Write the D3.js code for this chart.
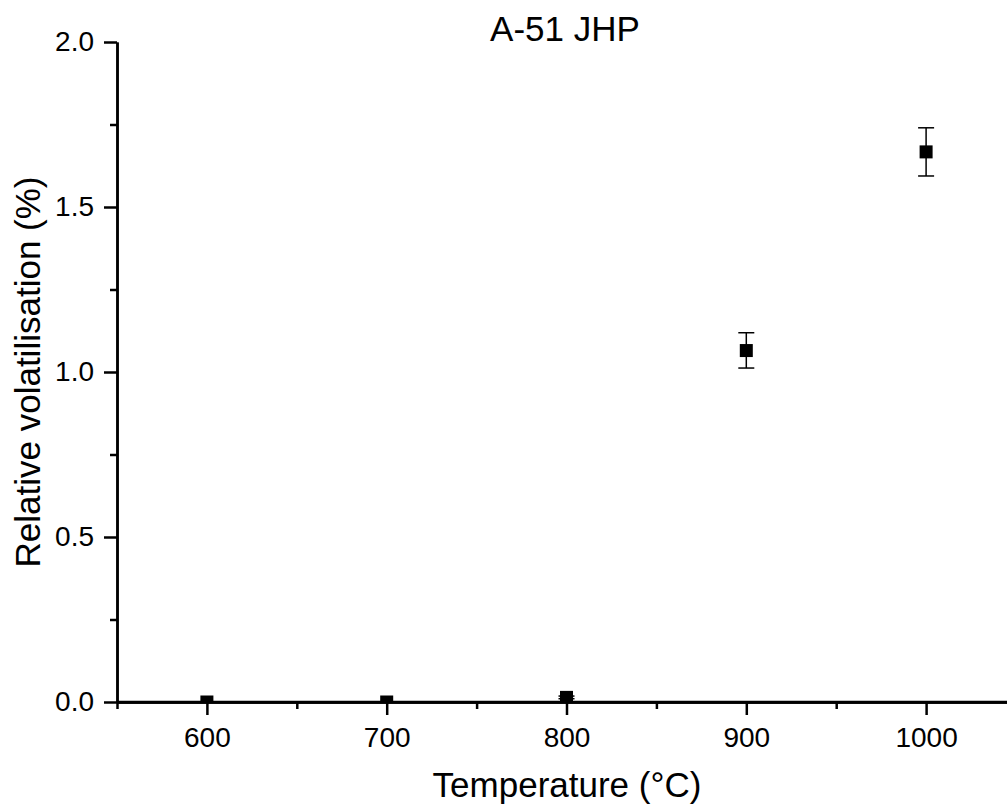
<!DOCTYPE html>
<html>
<head>
<meta charset="utf-8">
<script src="https://cdn.jsdelivr.net/npm/d3@7"></script>
<style>
  body { margin: 0; background: #fff; }
  svg { display: block; font-family: "Liberation Sans", Arial, sans-serif; }
</style>
</head>
<body>
<div id="chart"></div>
<script>
// data
const temperatures = [600, 700, 800, 900, 1000];
const volatilisation = [0.0, 0.0, 0.014, 1.065, 1.667];
const errLow = [0.0, 0.0, 0.01, 1.012, 1.594];
const errHigh = [0.0, 0.0, 0.018, 1.119, 1.740];
const xTicks = [600, 700, 800, 900, 1000];
const xMinorTicks = [550, 650, 750, 850, 950, 1050];
const yTicks = [0, 0.5, 1.0, 1.5, 2.0];
const yMinorTicks = [0.25, 0.75, 1.25, 1.75];

const title = "A-51 JHP";
const xLabel = "Temperature (°C)";
const yLabel = "Relative volatilisation (%)";

const width = 1007;
const height = 810;
const margin = { top: 42, right: -9, bottom: 108, left: 117 };
const innerW = width - margin.left - margin.right;
const innerH = height - margin.top - margin.bottom;

const svg = d3.select("#chart")
    .append("svg")
    .attr("width", width)
    .attr("height", height);

const g = svg.append("g")
    .attr("transform", "translate(" + margin.left + "," + margin.top + ")");

const x = d3.scaleLinear().domain([550, 1050]).range([0, innerW]);
const y = d3.scaleLinear().domain([0, 2]).range([innerH, 0]);

// clip to plot area (markers at 0 get cut by the axis)
svg.append("defs").append("clipPath")
    .attr("id", "plotClip")
    .append("rect")
    .attr("x", 0).attr("y", 0)
    .attr("width", innerW).attr("height", innerH);

// minor ticks
g.append("g")
    .attr("class", "axis")
    .attr("transform", "translate(0," + innerH + ")")
    .call(d3.axisBottom(x).tickValues(xMinorTicks).tickSize(7).tickSizeOuter(0).tickFormat(""));
g.append("g")
    .attr("class", "axis")
    .call(d3.axisLeft(y).tickValues(yMinorTicks).tickSize(7).tickSizeOuter(0).tickFormat(""));

// major ticks
g.append("g")
    .attr("class", "axis")
    .attr("transform", "translate(0," + innerH + ")")
    .call(d3.axisBottom(x).tickValues(xTicks).tickSize(13).tickSizeOuter(0).tickPadding(12).tickFormat(d3.format("d")));
g.append("g")
    .attr("class", "axis")
    .call(d3.axisLeft(y).tickValues(yTicks).tickSize(13).tickSizeOuter(0).tickPadding(10).tickFormat(d3.format(".1f")));

g.selectAll(".axis path").attr("stroke", "#000").attr("stroke-width", 2.5);
g.selectAll(".axis line").attr("stroke", "#000").attr("stroke-width", 2.5);
g.selectAll(".axis text")
    .attr("fill", "#000")
    .style("font-size", "28px")
    .style("font-family", "'Liberation Sans', Arial, sans-serif");

// data
const pts = temperatures.map(function (t, i) {
    return { t: t, v: volatilisation[i], lo: errLow[i], hi: errHigh[i] };
});

const plot = g.append("g").attr("clip-path", "url(#plotClip)");
const capW = 8;

const eb = plot.selectAll(".err")
    .data(pts)
    .enter()
    .append("g")
    .attr("class", "err")
    .attr("stroke", "#000")
    .attr("stroke-width", 1.5);
eb.append("line")
    .attr("x1", function (d) { return x(d.t); })
    .attr("x2", function (d) { return x(d.t); })
    .attr("y1", function (d) { return y(d.lo); })
    .attr("y2", function (d) { return y(d.hi); });
eb.append("line")
    .attr("x1", function (d) { return x(d.t) - capW; })
    .attr("x2", function (d) { return x(d.t) + capW; })
    .attr("y1", function (d) { return y(d.hi); })
    .attr("y2", function (d) { return y(d.hi); });
eb.append("line")
    .attr("x1", function (d) { return x(d.t) - capW; })
    .attr("x2", function (d) { return x(d.t) + capW; })
    .attr("y1", function (d) { return y(d.lo); })
    .attr("y2", function (d) { return y(d.lo); });

const ms = 13;
plot.selectAll(".pt")
    .data(pts)
    .enter()
    .append("rect")
    .attr("class", "pt")
    .attr("x", function (d) { return x(d.t) - ms / 2; })
    .attr("y", function (d) { return y(d.v) - ms / 2; })
    .attr("width", ms)
    .attr("height", ms)
    .attr("fill", "#000");

// redraw x axis line on top of clipped markers
g.append("line")
    .attr("x1", 0).attr("x2", innerW)
    .attr("y1", innerH).attr("y2", innerH)
    .attr("stroke", "#000")
    .attr("stroke-width", 2.5);

// labels
svg.append("text")
    .attr("x", 565)
    .attr("y", 41)
    .attr("text-anchor", "middle")
    .style("font-size", "35px")
    .text(title);

svg.append("text")
    .attr("x", 567)
    .attr("y", 797)
    .attr("text-anchor", "middle")
    .style("font-size", "35px")
    .text(xLabel);

svg.append("text")
    .attr("transform", "translate(40," + (margin.top + innerH / 2) + ") rotate(-90)")
    .attr("text-anchor", "middle")
    .style("font-size", "35px")
    .text(yLabel);
</script>
</body>
</html>
